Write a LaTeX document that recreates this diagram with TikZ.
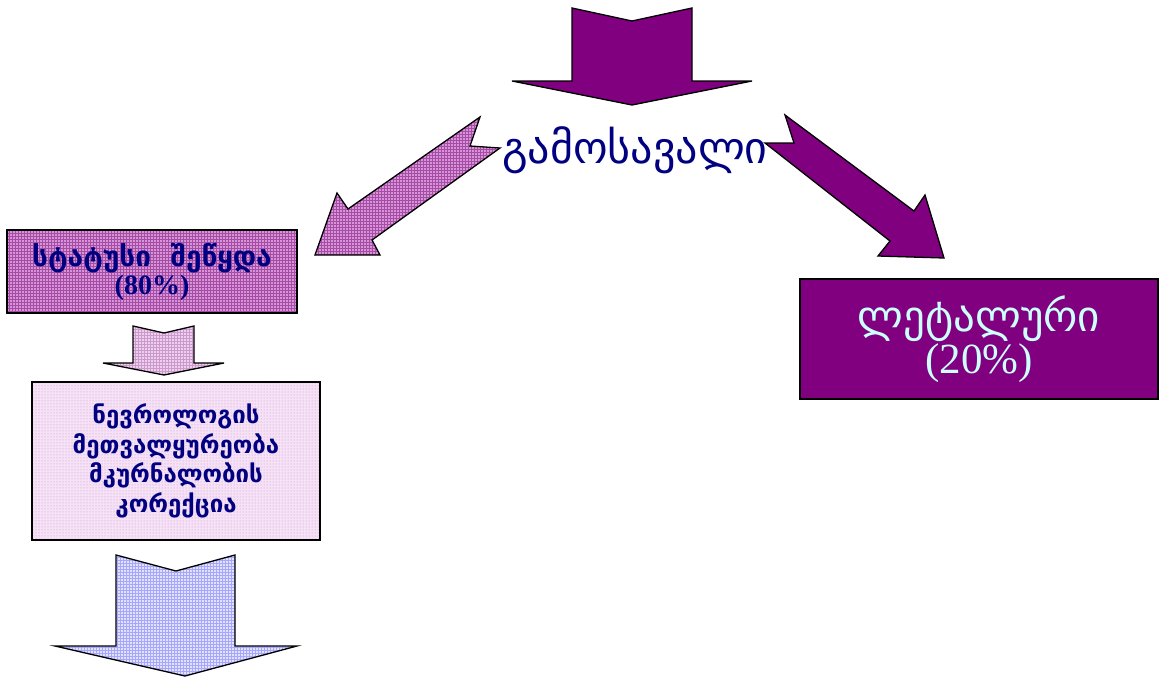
\documentclass[tikz,border=0pt]{standalone}
\usepackage{fontspec}
\setmainfont{Liberation Serif}
\newfontfamily\geo{DejaVu Sans}
\usetikzlibrary{patterns}
\definecolor{plum}{RGB}{128,0,128}
\definecolor{inkblue}{RGB}{0,0,128}
\definecolor{paleaqua}{RGB}{204,255,255}
\definecolor{pinkfill}{RGB}{214,150,214}
\definecolor{palepink}{RGB}{246,226,246}
\definecolor{lavender}{RGB}{226,226,248}
\begin{document}
\begin{tikzpicture}[x=1pt, y=-1pt, line join=miter,
  blockarrow/.style={draw=black, line width=1.3pt},
  box/.style={draw=black, line width=1.5pt, rectangle, align=center, inner sep=2pt},
  pinkgrid/.style={preaction={fill=pinkfill}, pattern=grid, pattern color=plum!70},
  pinkdots/.style={preaction={fill=palepink}, pattern=dots, pattern color=plum!45},
  bluegrid/.style={preaction={fill=lavender}, pattern=grid, pattern color=blue!35}]
  \useasboundingbox (0,0) rectangle (1159,680);
  % arrows
  \draw[blockarrow, fill=plum] (572,8) -- (632,21) -- (692,8) -- (692,81) -- (752,81) -- (632,105) -- (512,81) -- (572,81) -- cycle;
  \draw[blockarrow, pinkgrid] (480,117) -- (470,146) -- (500,148) -- (372,240) -- (380,255) -- (315,255) -- (337,193) -- (348,209) -- cycle;
  \draw[blockarrow, fill=plum] (785,115) -- (914,211) -- (925,195) -- (944,258) -- (878,256) -- (890,241) -- (765,143) -- (794,143) -- cycle;
  \draw[blockarrow, preaction={fill=pinkfill!45}, pattern=grid, pattern color=plum!40] (133,326) -- (164,333) -- (194,326) -- (194,363) -- (224,363) -- (164,375) -- (103,363) -- (133,363) -- cycle;
  \draw[blockarrow, bluegrid] (116,555) -- (176,571) -- (235,555) -- (235,646) -- (297,646) -- (185,676) -- (55,646) -- (116,646) -- cycle;
  % texts
  \node[text=inkblue, font=\geo\fontsize{44}{48}\selectfont] (outcome) at (635,150) {გამოსავალი};
  \node[box, pinkgrid, minimum width=290pt, minimum height=83pt, text=inkblue,
        font=\bfseries\fontsize{28}{28}\selectfont] (status) at (152,271.5)
        {{\geo სტატუსი\ \ შეწყდა}\\(80\%)};
  \node[box, pinkdots, minimum width=288pt, minimum height=158pt, text=inkblue,
        font=\geo\bfseries\fontsize{24}{29.5}\selectfont] (care) at (176,461)
        {ნევროლოგის\\მეთვალყურეობა\\მკურნალობის\\კორექცია};
  \node[box, fill=plum, minimum width=358pt, minimum height=120pt, text=paleaqua,
        font=\fontsize{43}{42}\selectfont] (lethal) at (979,339)
        {{\geo ლეტალური}\\(20\%)};
\end{tikzpicture}
\end{document}
